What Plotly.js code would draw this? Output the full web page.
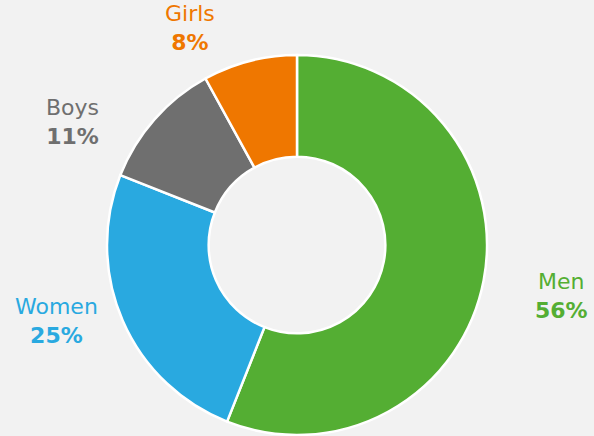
<!DOCTYPE html>
<html>
<head>
<meta charset="utf-8">
<script src="https://cdn.plot.ly/plotly-3.0.1.min.js"></script>
<style>html,body{margin:0;padding:0;background:#f2f2f2;}#chart{width:594px;height:436px;}</style>
</head>
<body>
<div id="chart"></div>
<script>
var categories = ["Men", "Women", "Boys", "Girls"];
var values = [56, 25, 11, 8];
var colors = ["#54ae33", "#29a9e0", "#6f6f6f", "#ef7700"];
// label anchor positions (pixels) for each category's outside label
var labelX = [561, 56, 72, 190];
var labelY = [296, 321, 122, 28];

var W = 594, H = 436;
var total = values.reduce(function(a, b){ return a + b; }, 0);

var annotations = categories.map(function(c, i){
  var pct = Math.round(values[i] / total * 100);
  return {
    xref: "paper", yref: "paper",
    x: labelX[i] / W, y: 1 - labelY[i] / H,
    xanchor: "center", yanchor: "middle",
    showarrow: false,
    align: "center",
    text: c + "<br><b>" + pct + "%</b>",
    font: {family: "DejaVu Sans", size: 22, color: colors[i]}
  };
});

var cx = 297, cy = 245, r = 190;
var data = [{
  type: "pie",
  labels: categories,
  values: values,
  hole: 0.465,
  sort: false,
  direction: "clockwise",
  rotation: 0,
  textinfo: "none",
  hoverinfo: "label+percent",
  marker: {colors: colors, line: {color: "#ffffff", width: 2.5}},
  domain: {x: [(cx - r) / W, (cx + r) / W], y: [1 - (cy + r) / H, 1 - (cy - r) / H]}
}];

var layout = {
  width: W, height: H,
  margin: {l: 0, r: 0, t: 0, b: 0},
  paper_bgcolor: "#f2f2f2",
  plot_bgcolor: "#f2f2f2",
  showlegend: false,
  annotations: annotations
};

Plotly.newPlot("chart", data, layout, {displayModeBar: false, staticPlot: true});
</script>
</body>
</html>
